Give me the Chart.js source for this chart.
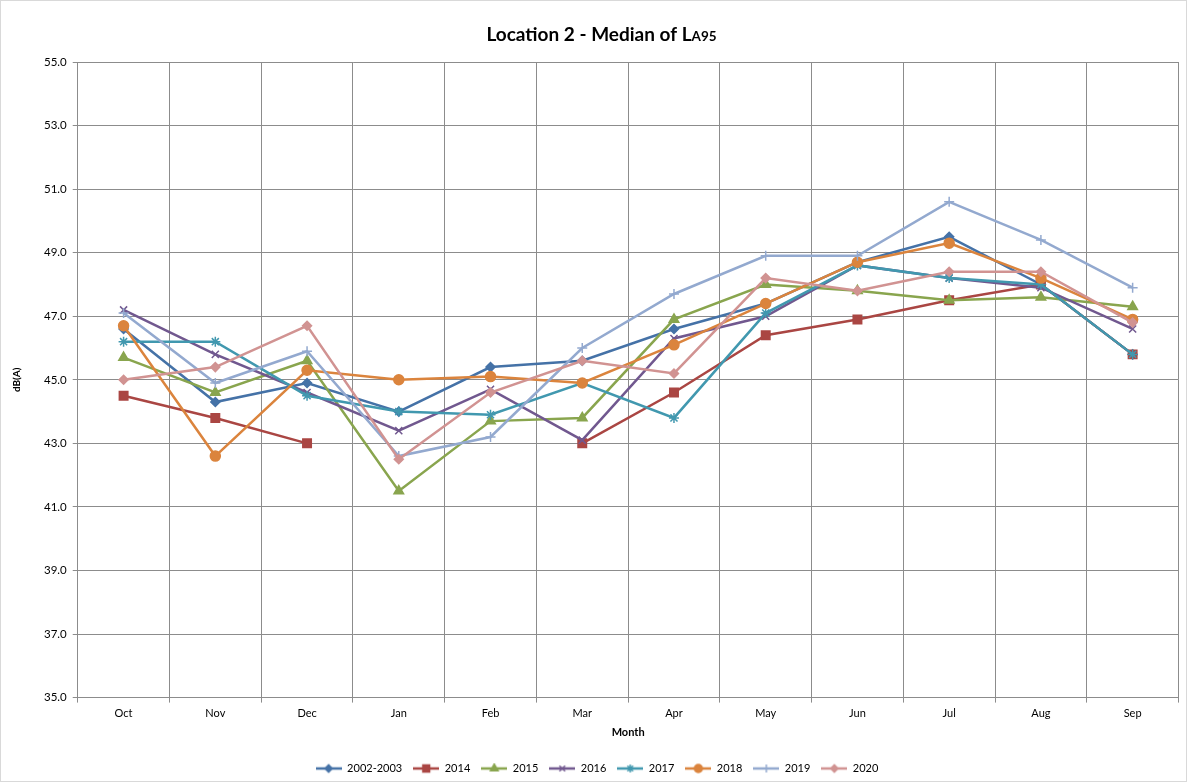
<!DOCTYPE html>
<html>
<head>
<meta charset="utf-8">
<script src="https://cdn.jsdelivr.net/npm/chart.js@4.4.1/dist/chart.umd.min.js"></script>
<style>
  html, body { margin: 0; padding: 0; background: #fff; }
  #wrap { position: relative; width: 1187px; height: 782px; box-sizing: border-box; border: 1px solid #d9d9d9; }
  canvas { display: block; }
</style>
</head>
<body>
<div id="wrap"><canvas id="chart"></canvas></div>
<script>
const months = ['Oct', 'Nov', 'Dec', 'Jan', 'Feb', 'Mar', 'Apr', 'May', 'Jun', 'Jul', 'Aug', 'Sep'];
const seriesNames = ['2002-2003', '2014', '2015', '2016', '2017', '2018', '2019', '2020'];

const v2002 = [46.6, 44.3, 44.9, 44.0, 45.4, 45.6, 46.6, 47.4, 48.7, 49.5, 48.0, 45.8];
const v2014 = [44.5, 43.8, 43.0, null, null, 43.0, 44.6, 46.4, 46.9, 47.5, 48.0, 45.8];
const v2015 = [45.7, 44.6, 45.6, 41.5, 43.7, 43.8, 46.9, 48.0, 47.8, 47.5, 47.6, 47.3];
const v2016 = [47.2, 45.8, 44.6, 43.4, 44.7, 43.1, 46.3, 47.0, 48.6, 48.2, 47.9, 46.6];
const v2017 = [46.2, 46.2, 44.5, 44.0, 43.9, 44.9, 43.8, 47.1, 48.6, 48.2, 48.0, 45.8];
const v2018 = [46.7, 42.6, 45.3, 45.0, 45.1, 44.9, 46.1, 47.4, 48.7, 49.3, 48.2, 46.9];
const v2019 = [47.1, 44.9, 45.9, 42.6, 43.2, 46.0, 47.7, 48.9, 48.9, 50.6, 49.4, 47.9];
const v2020 = [45.0, 45.4, 46.7, 42.5, 44.6, 45.6, 45.2, 48.2, 47.8, 48.4, 48.4, 46.8];

const yTicks = [35, 37, 39, 41, 43, 45, 47, 49, 51, 53, 55];

const values = [v2002, v2014, v2015, v2016, v2017, v2018, v2019, v2020];
const colors = ['#4572A7', '#AA4643', '#89A54E', '#71588F', '#4198AF', '#DB843D', '#93A9CF', '#D19392'];
const markers = ['rectRot', 'rect', 'triangle', 'crossRot', 'star', 'circle', 'cross', 'rectRot'];
const radii = [4.5, 6, 5.5, 5, 5, 5, 5, 4.5];

const FONT = 'Lato, "Open Sans", sans-serif';

// little line + marker picture for each legend entry
function legendMark(i) {
  const c = document.createElement('canvas');
  c.width = 26; c.height = 12;
  const ctx = c.getContext('2d');
  ctx.strokeStyle = colors[i];
  ctx.fillStyle = colors[i];
  ctx.lineWidth = 2.5;
  ctx.beginPath(); ctx.moveTo(0, 6); ctx.lineTo(26, 6); ctx.stroke();
  ctx.lineWidth = 1.5;
  Chart.helpers.drawPoint(ctx, { pointStyle: markers[i], radius: radii[i] * 0.8, rotation: 0, borderWidth: 1.5 }, 13, 6);
  return c;
}

const datasets = seriesNames.map((name, i) => ({
  label: name,
  data: values[i],
  borderColor: colors[i],
  backgroundColor: colors[i],
  borderWidth: 2.5,
  pointStyle: markers[i],
  pointRadius: radii[i],
  pointBorderWidth: 1.5,
  pointBorderColor: colors[i],
  pointBackgroundColor: colors[i],
  tension: 0,
  spanGaps: false,
  order: seriesNames.length - i
}));

const titlePlugin = {
  id: 'titleText',
  afterDraw(chart) {
    const ctx = chart.ctx;
    const big = 'bold 19px ' + FONT;
    const small = 'bold 13.5px ' + FONT;
    const a = 'Location 2 - Median of L';
    const b = 'A95';
    ctx.save();
    ctx.fillStyle = '#000';
    ctx.textBaseline = 'alphabetic';
    ctx.font = big; const wa = ctx.measureText(a).width;
    ctx.font = small; const wb = ctx.measureText(b).width;
    const x0 = chart.width / 2 - (wa + wb) / 2 + 8;
    ctx.font = big; ctx.fillText(a, x0, 40);
    ctx.font = small; ctx.fillText(b, x0 + wa, 40);
    ctx.restore();
  }
};

new Chart(document.getElementById('chart'), {
  type: 'line',
  data: { labels: months, datasets: datasets },
  plugins: [titlePlugin],
  options: {
    responsive: true,
    maintainAspectRatio: false,
    animation: false,
    layout: { padding: { top: 61, right: 3, left: 10, bottom: -3 } },
    scales: {
      x: {
        offset: true,
        grid: { offset: true, color: '#8c8c8c', lineWidth: 1, drawTicks: true, tickLength: 5 },
        border: { color: '#8c8c8c' },
        ticks: { color: '#000', font: { family: FONT, size: 11 }, padding: 4 },
        title: { display: true, text: 'Month', color: '#000', font: { family: FONT, size: 11, weight: 'bold' }, padding: { top: 2, bottom: 13 } }
      },
      y: {
        min: 35, max: 55,
        afterBuildTicks: axis => { axis.ticks = yTicks.map(v => ({ value: v })); },
        grid: { color: '#8c8c8c', lineWidth: 1, tickLength: 5 },
        border: { color: '#8c8c8c' },
        ticks: { color: '#000', font: { family: FONT, size: 11.5 }, padding: 6, callback: v => Number(v).toFixed(1) },
        title: { display: true, text: 'dB(A)', color: '#000', font: { family: FONT, size: 10, weight: 'bold' }, padding: { top: 0, bottom: 15 } }
      }
    },
    plugins: {
      title: { display: false },
      tooltip: { enabled: false },
      legend: {
        position: 'bottom',
        labels: {
          usePointStyle: true,
          pointStyleWidth: 26,
          padding: 11,
          color: '#000',
          font: { family: FONT, size: 11 },
          sort: (a, b) => a.datasetIndex - b.datasetIndex,
          generateLabels: chart => chart.data.datasets.map((ds, i) => ({
            text: ds.label,
            datasetIndex: i,
            pointStyle: legendMark(i),
            fillStyle: colors[i],
            strokeStyle: colors[i],
            lineWidth: 0,
            hidden: false,
            fontColor: '#000'
          }))
        }
      }
    }
  }
});
</script>
</body>
</html>
